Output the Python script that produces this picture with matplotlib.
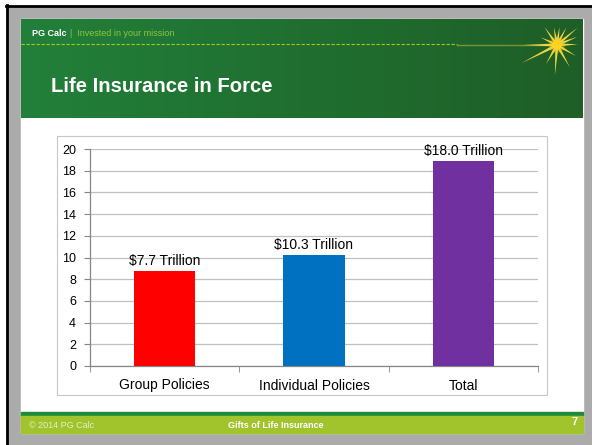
import matplotlib.pyplot as plt
import numpy as np
from matplotlib.patches import Rectangle, Circle, Polygon

plt.rcParams['font.family'] = ['Liberation Sans', 'DejaVu Sans']

categories = ["Group Policies", "Individual Policies", "Total"]
values = [8.75, 10.2, 18.9]
labels = ["$7.7 Trillion", "$10.3 Trillion", "$18.0 Trillion"]
colors = ["#ff0000", "#0070c0", "#7030a0"]
yticks = [0, 2, 4, 6, 8, 10, 12, 14, 16, 18, 20]

W, H = 592, 445
fig = plt.figure(figsize=(W / 100, H / 100), dpi=100)
fig.patch.set_facecolor("white")

# background layer in pixel coordinates
bg = fig.add_axes([0, 0, 1, 1])
bg.axis("off")

bg.add_patch(Rectangle((7, 6), W - 7, H - 6, color="#ababab", zorder=0))
bg.plot([6.5, 6.5], [5, H], color="black", lw=2, zorder=1)
bg.plot([6, W], [5.5, 5.5], color="black", lw=2, zorder=1)

# slide
bg.add_patch(Rectangle((21, 19), 562, 414, color="white", zorder=1))

# header gradient
grad = np.linspace(0, 1, 256)
c1 = np.array([0x22, 0x80, 0x3a]) / 255
c2 = np.array([0x1e, 0x5e, 0x27]) / 255
img = c1[None, :] * (1 - grad[:, None]) + c2[None, :] * grad[:, None]
bg.imshow(img[None, :, :], extent=(21, 583, 118, 19), aspect="auto", zorder=2)
bg.set_xlim(0, W)
bg.set_ylim(H, 0)

bg.plot([21, 457], [44, 44], color="#a4c81c", lw=0.8, ls=(0, (3, 1.5)), zorder=3)
bg.plot([457, 545], [44.5, 44.5], color="#d8c830", lw=1.0, alpha=0.5, zorder=3)

# star
cx, cy = 557, 45
rays = [(2, 21), (22, 22), (40, 27), (62, 20), (82, 18), (100, 18), (125, 22),
        (155, 18), (180, 34), (207, 40), (240, 22), (266, 30), (300, 26), (330, 22)]
for ang, ln in rays:
    a = np.deg2rad(ang)
    px, py = -np.sin(a), -np.cos(a)
    w = 1.6
    pts = [(cx + w * px, cy + w * py), (cx - w * px, cy - w * py),
           (cx + ln * np.cos(a), cy - ln * np.sin(a))]
    bg.add_patch(Polygon(pts, closed=True, color="#f0d640", lw=0, zorder=4))
bg.add_patch(Circle((cx, cy), 8, color="#f7c81e", alpha=0.3, lw=0, zorder=5))
bg.add_patch(Circle((cx, cy), 4.5, color="#ffd21c", lw=0, zorder=5))

bg.text(32, 34, "PG Calc", color="white", fontsize=6.5, fontweight="bold",
        va="center", zorder=5)
bg.text(70, 34, "|  Invested in your mission", color="#8cc63f", fontsize=6.5,
        va="center", zorder=5)
bg.text(51, 86, "Life Insurance in Force", color="white", fontsize=14.6,
        fontweight="bold", va="center", zorder=5)

# footer
bg.add_patch(Rectangle((21, 412), 562, 4, color="#1f8a3a", zorder=2))
bg.add_patch(Rectangle((21, 416), 562, 17, color="#a1c32b", zorder=2))
bg.text(29, 425, "© 2014 PG Calc", color="#e4f0c8", fontsize=6.5,
        va="center", zorder=5)
bg.text(276, 425, "Gifts of Life Insurance", color="white", fontsize=6.5,
        fontweight="bold", va="center", ha="center", zorder=5)
bg.text(578, 422, "7", color="white", fontsize=8, fontweight="bold",
        va="center", ha="right", zorder=5)

# chart frame
bg.add_patch(Rectangle((57, 136), 490, 259, fill=False, ec="#c8c8c8", lw=0.8, zorder=3))

# chart
ax = fig.add_axes([90 / W, 1 - 366 / H, (538 - 90) / W, (366 - 149) / H])
x = np.arange(len(categories))
bars = ax.bar(x, values, width=0.41, color=colors, zorder=3)
for b, lab in zip(bars, labels):
    ax.text(b.get_x() + b.get_width() / 2, b.get_height() + 0.3, lab,
            ha="center", va="bottom", fontsize=10, color="black")
ax.set_xlim(-0.5, 2.5)
ax.set_ylim(0, 20)
ax.set_yticks(yticks)
ax.set_yticklabels([str(t) for t in yticks], fontsize=9)
ax.set_xticks(x)
ax.set_xticklabels(categories, fontsize=10)
ax.set_xticks([-0.5, 0.5, 1.5, 2.5], minor=True)
ax.tick_params(axis="x", which="major", length=0, pad=9)
ax.tick_params(axis="x", which="minor", length=4, color="#868686")
ax.tick_params(axis="y", length=4, color="#868686", pad=6)
ax.grid(axis="y", color="#c0c0c0", lw=0.9, zorder=0)
for s in ["top", "right"]:
    ax.spines[s].set_visible(False)
for s in ["left", "bottom"]:
    ax.spines[s].set_color("#868686")
    ax.spines[s].set_linewidth(0.9)
ax.set_facecolor("none")

fig.savefig("out.png", dpi=100)
